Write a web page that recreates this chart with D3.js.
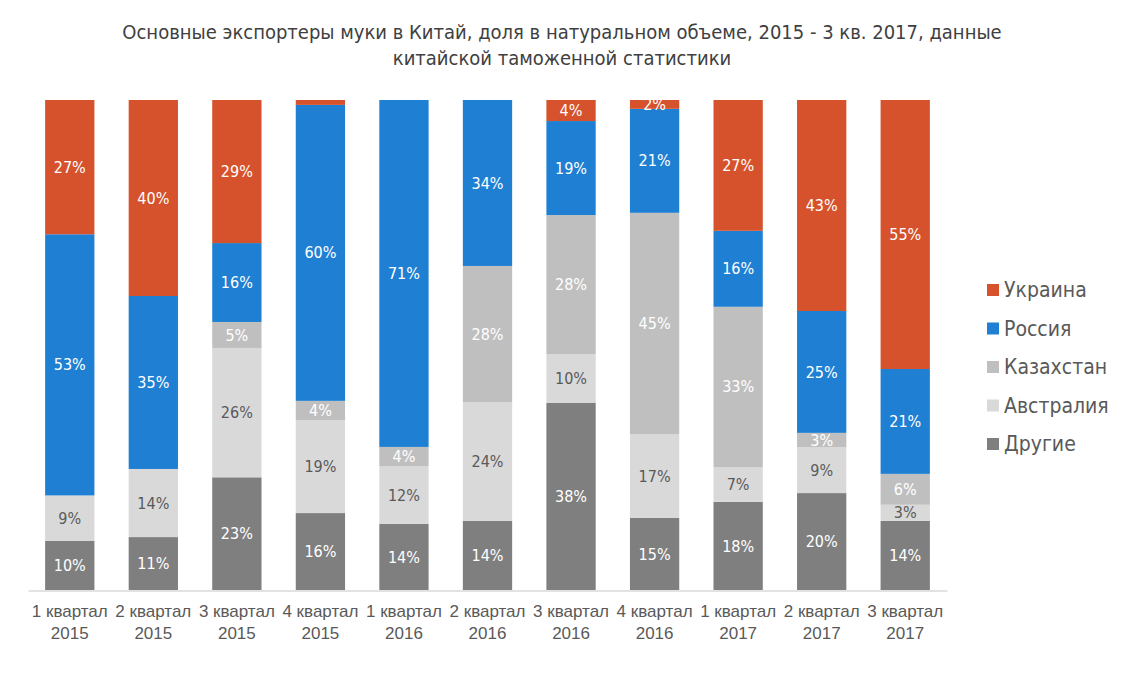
<!DOCTYPE html>
<html>
<head>
<meta charset="utf-8">
<script src="https://cdn.jsdelivr.net/npm/d3@7/dist/d3.min.js"></script>
<style>
  html, body { margin: 0; padding: 0; background: #fff; }
  svg { display: block; font-family: "Liberation Sans Narrow", "DejaVu Sans Condensed", "Liberation Sans", sans-serif; }
</style>
</head>
<body>
<svg id="chart" width="1146" height="683"></svg>
<script>
const categories = ["1 квартал|2015","2 квартал|2015","3 квартал|2015","4 квартал|2015","1 квартал|2016","2 квартал|2016","3 квартал|2016","4 квартал|2016","1 квартал|2017","2 квартал|2017","3 квартал|2017"];
const seriesNames = ["Другие","Австралия","Казахстан","Россия","Украина"];
const drugie    = [10.0, 10.8, 23.0, 15.7, 13.5, 14.1, 38.2, 14.7, 18.0, 19.8, 14.1];
const avstralia = [ 9.3, 13.9, 26.4, 19.0, 11.8, 24.3, 10.0, 17.1,  7.1,  9.4,  3.3];
const kazakhstan= [ 0.0,  0.0,  5.3,  3.9,  3.9, 27.8, 28.4, 45.1, 32.7,  2.9,  6.3];
const rossiya   = [53.3, 35.3, 16.1, 60.4, 70.8, 33.9, 19.2, 21.2, 15.5, 24.9, 21.4];
const ukraina   = [27.4, 40.0, 29.2,  1.0,  0.0,  0.0,  4.3,  1.8, 26.7, 43.1, 54.9];
const titleLines = ["Основные экспортеры муки в Китай, доля в натуральном объеме, 2015 - 3 кв. 2017, данные", "китайской таможенной статистики"];

const colors = {"Украина":"#D6522C","Россия":"#1F80D3","Казахстан":"#BFBFBF","Австралия":"#D9D9D9","Другие":"#7F7F7F"};
const labelColors = {"Украина":"#ffffff","Россия":"#ffffff","Казахстан":"#ffffff","Австралия":"#595959","Другие":"#ffffff"};

const table = categories.map((c, i) => ({
  cat: c,
  "Другие": drugie[i], "Австралия": avstralia[i], "Казахстан": kazakhstan[i], "Россия": rossiya[i], "Украина": ukraina[i]
}));

const svg = d3.select("#chart");
const margin = {left: 28, right: 199, top: 100, bottom: 93};
const W = 1146, H = 683;

const x = d3.scaleBand().domain(categories).range([margin.left, W - margin.right]).paddingInner(0.41).paddingOuter(0.205);
const y = d3.scaleLinear().domain([0, 1]).range([H - margin.bottom, margin.top]);

const stack = d3.stack().keys(seriesNames).offset(d3.stackOffsetExpand);
const layers = stack(table);

// title
svg.append("g").selectAll("text").data(titleLines).join("text")
  .attr("x", 562).attr("y", (d, i) => 39 + i * 26)
  .attr("text-anchor", "middle")
  .attr("font-size", 20).attr("fill", "#404040")
  .text(d => d);

// bars
const g = svg.append("g");
layers.forEach(layer => {
  const name = layer.key;
  g.append("g").selectAll("rect").data(layer).join("rect")
    .attr("x", d => x(d.data.cat))
    .attr("width", x.bandwidth())
    .attr("y", d => y(d[1]))
    .attr("height", d => Math.max(0, y(d[0]) - y(d[1])))
    .attr("fill", colors[name]);
});

// labels
layers.forEach(layer => {
  const name = layer.key;
  g.append("g").selectAll("text").data(layer.filter(d => Math.round(d.data[name]) >= 2)).join("text")
    .attr("x", d => x(d.data.cat) + x.bandwidth() / 2)
    .attr("y", d => (y(d[0]) + y(d[1])) / 2)
    .attr("dy", "0.35em")
    .attr("text-anchor", "middle")
    .attr("font-size", 16)
    .attr("fill", labelColors[name])
    .text(d => Math.round(d.data[name]) + "%");
});

// x axis
const axis = d3.axisBottom(x).tickSize(0).tickFormat("");
const ax = svg.append("g").attr("transform", `translate(0,${H - margin.bottom + 0.5})`).call(axis);
ax.select(".domain").attr("stroke", "#D9D9D9").attr("stroke-width", 1.5);
ax.selectAll(".tick").each(function(d) {
  const parts = d.split("|");
  const t = d3.select(this).append("text").attr("fill", "#595959").attr("font-size", 17).attr("text-anchor", "middle");
  t.append("tspan").attr("x", 0).attr("y", 26).text(parts[0]);
  t.append("tspan").attr("x", 0).attr("y", 48).text(parts[1]);
});

// legend
const legendOrder = ["Украина","Россия","Казахстан","Австралия","Другие"];
const lg = svg.append("g").selectAll("g").data(legendOrder).join("g")
  .attr("transform", (d, i) => `translate(987,${290 + i * 38.5})`);
lg.append("rect").attr("x", 0).attr("y", -6).attr("width", 12).attr("height", 12).attr("fill", d => colors[d]);
lg.append("text").attr("x", 17).attr("y", 0).attr("dy", "0.35em").attr("font-size", 21).attr("fill", "#595959").text(d => d);
</script>
</body>
</html>
